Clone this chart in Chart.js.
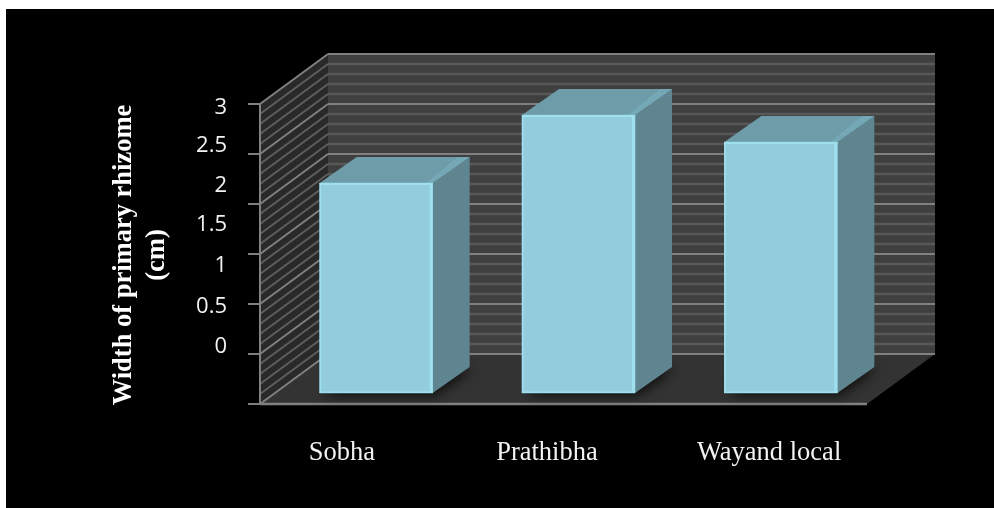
<!DOCTYPE html>
<html>
<head>
<meta charset="utf-8">
<title>Width of primary rhizome</title>
<script src="https://cdn.jsdelivr.net/npm/chart.js@4"></script>
<style>
  html, body { margin: 0; background: #fff; overflow: hidden; }
  #back { position: absolute; left: 6px; top: 9px; right: 0; bottom: 0; background: #000; }
  #box { position: absolute; left: 0; top: 0; width: 994px; height: 508px; }
</style>
</head>
<body>
<div id="back"></div>
<div id="box"><canvas id="rhizomeChart"></canvas></div>
<script>
const categories = ["Sobha", "Prathibha", "Wayand local"];
const rhizomeWidth = [2.1, 2.78, 2.51];

// the labels in the source sit off their gridlines, so each has its own spot on the axis
const yTickLabels = ["0", "0.5", "1", "1.5", "2", "2.5", "3"];
const yLabelSpots = [0.46, 0.86, 1.27, 1.68, 2.07, 2.47, 2.855];
const xLabelSpots = [0.331, 1.344, 2.442];
const axisTitle = ["Width of primary rhizome", "(cm)"];

// offsets of the walls from the plane the bars stand on
const front = { dx: -15, dy: 11 };
const rear = { dx: 53, dy: -39 };
const barDepth = { dx: 37, dy: -26 };

function poly(ctx, pts, fill) {
    ctx.beginPath();
    pts.forEach((p, i) => i ? ctx.lineTo(p[0], p[1]) : ctx.moveTo(p[0], p[1]));
    ctx.closePath();
    ctx.fillStyle = fill;
    ctx.fill();
}

function seg(ctx, x1, y1, x2, y2, color, w) {
    ctx.beginPath();
    ctx.moveTo(x1, y1);
    ctx.lineTo(x2, y2);
    ctx.strokeStyle = color;
    ctx.lineWidth = w;
    ctx.stroke();
}

const box3d = {
    id: "box3d",
    beforeDatasetsDraw(chart) {
        const ctx = chart.ctx;
        const area = chart.chartArea;
        const y = chart.scales.y;
        const fx1 = area.left + front.dx, fx2 = area.right + front.dx;
        const bx1 = area.left + rear.dx, bx2 = area.right + rear.dx;
        const y0 = y.getPixelForValue(0), y3 = y.getPixelForValue(3);

        ctx.save();
        poly(ctx, [[bx1, y3 + rear.dy], [bx2, y3 + rear.dy], [bx2, y0 + rear.dy], [bx1, y0 + rear.dy]], "#3f3f3f");
        poly(ctx, [[fx1, y3 + front.dy], [bx1, y3 + rear.dy], [bx1, y0 + rear.dy], [fx1, y0 + front.dy]], "#292929");
        poly(ctx, [[fx1, y0 + front.dy], [bx1, y0 + rear.dy], [bx2, y0 + rear.dy], [fx2, y0 + front.dy]], "#333333");

        for (let i = 0; i <= 30; i++) {
            const p = y.getPixelForValue(i / 10);
            const major = i % 5 === 0;
            const color = major ? "#808080" : "#585858";
            seg(ctx, bx1, p + rear.dy, bx2, p + rear.dy, color, major ? 2 : 2.5);
            seg(ctx, fx1, p + front.dy, bx1, p + rear.dy, major ? "#808080" : "#5e5e5e", 2);
            if (major) seg(ctx, fx1 - 12, p + front.dy, fx1, p + front.dy, "#808080", 2);
        }
        seg(ctx, fx1, y3 + front.dy, fx1, y0 + front.dy, "#808080", 2);
        seg(ctx, fx1, y0 + front.dy, fx2, y0 + front.dy, "#808080", 2.5);

        const meta = chart.getDatasetMeta(0);
        meta.data.forEach(bar => {
            const l = bar.x - bar.width / 2, r = bar.x + bar.width / 2;
            const t = bar.y, b = bar.base;
            const d = barDepth;
            // soft shadow on the floor
            ctx.save();
            ctx.shadowColor = "rgba(0,0,0,0.75)";
            ctx.shadowBlur = 12;
            ctx.shadowOffsetX = 3;
            ctx.shadowOffsetY = 2;
            poly(ctx, [[l, b], [r, b], [r + d.dx, b + d.dy], [l + d.dx, b + d.dy]], "#222");
            ctx.restore();
            // side and top faces, the lighter strip is the bevel on the top right edge
            poly(ctx, [[r, t], [r + d.dx, t + d.dy], [r + d.dx, b + d.dy], [r, b]], "#5f8690");
            poly(ctx, [[l, t], [l + d.dx, t + d.dy], [r + d.dx, t + d.dy], [r, t]], "#6e9ca9");
            poly(ctx, [[r - 7, t], [r + d.dx - 12, t + d.dy], [r + d.dx, t + d.dy], [r, t]], "#74a8b6");
        });
        ctx.restore();
    },
    afterDatasetsDraw(chart) {
        const ctx = chart.ctx;
        const meta = chart.getDatasetMeta(0);
        ctx.save();
        ctx.fillStyle = "#9fe0ef";
        meta.data.forEach(bar => {
            const l = bar.x - bar.width / 2, r = bar.x + bar.width / 2;
            ctx.fillRect(r - 3, bar.y, 3, bar.base - bar.y);
            ctx.fillRect(l, bar.y, bar.width, 2);
            ctx.fillRect(l, bar.y, 1.5, bar.base - bar.y);
            ctx.fillRect(l, bar.base - 1.5, bar.width, 1.5);
        });
        ctx.restore();
    }
};

new Chart(document.getElementById("rhizomeChart"), {
    type: "bar",
    data: {
        labels: categories,
        datasets: [{
            data: rhizomeWidth,
            backgroundColor: "#93cddd",
            borderWidth: 0,
            barThickness: 113
        }]
    },
    plugins: [box3d],
    options: {
        responsive: true,
        maintainAspectRatio: false,
        animation: false,
        layout: { padding: { left: 108, top: 93, right: 112, bottom: 0 } },
        plugins: { legend: { display: false }, tooltip: { enabled: false } },
        scales: {
            x: { display: false },
            y: { display: false, min: -0.24, max: 3 },
            xText: {
                type: "linear",
                axis: "x",
                position: "bottom",
                offset: false,
                min: 0,
                max: 3,
                grid: { display: false, drawTicks: false },
                border: { display: false },
                afterBuildTicks: s => { s.ticks = xLabelSpots.map(v => ({ value: v })); },
                afterFit: s => { s.height = 91; },
                ticks: {
                    color: "#f2f2f2",
                    padding: 20,
                    autoSkip: false,
                    maxRotation: 0,
                    font: { family: "Liberation Serif", size: 26.5 },
                    callback: (v, i) => categories[i]
                }
            },
            yText: {
                type: "linear",
                axis: "y",
                position: "left",
                min: -0.24,
                max: 3,
                grid: { display: false, drawTicks: false },
                border: { display: false },
                afterBuildTicks: s => { s.ticks = yLabelSpots.map(v => ({ value: v })); },
                afterFit: s => { s.width = 167; },
                title: {
                    display: true,
                    text: axisTitle,
                    color: "#ffffff",
                    padding: 0,
                    font: { family: "Liberation Serif", size: 26.5, weight: "bold", lineHeight: 1.23 }
                },
                ticks: {
                    color: "#f2f2f2",
                    padding: 48,
                    autoSkip: false,
                    font: { family: "Open Sans", size: 22 },
                    callback: (v, i) => yTickLabels[i]
                }
            }
        }
    }
});
</script>
</body>
</html>
